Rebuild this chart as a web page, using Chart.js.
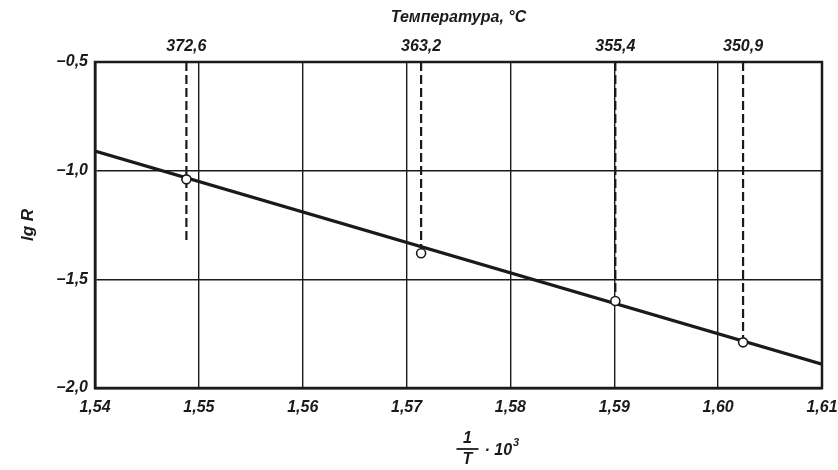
<!DOCTYPE html>
<html>
<head>
<meta charset="utf-8">
<script src="https://cdn.jsdelivr.net/npm/chart.js@4"></script>
<style>
  body { margin: 0; background: #fff; }
  #wrap { width: 838px; height: 470px; position: relative; }
</style>
</head>
<body>
<div id="wrap"><canvas id="myChart"></canvas></div>
<script>
// data
const xTicks = [1.54, 1.55, 1.56, 1.57, 1.58, 1.59, 1.60, 1.61];
const yTicks = [-2.0, -1.5, -1.0, -0.5];
const recipX = [1.5488, 1.5714, 1.5901, 1.6024];   // 1/T * 10^3
const lgR = [-1.04, -1.38, -1.60, -1.79];
const tempLabels = ["372,6", "363,2", "355,4", "350,9"];
const dashTop = -0.5;
const dashEnd = [-1.32, -1.38, -1.60, -1.79];
const fitX = [1.54, 1.61];
const fitY = [-0.91, -1.89];

const ink = "#1a1a1a";
const fnt = "'Liberation Sans', 'DejaVu Sans', sans-serif";

// dashed drop lines, one dataset each
var dropSets = recipX.map(function (x, i) {
  return {
    type: "line",
    data: [{ x: x, y: dashTop }, { x: x, y: dashEnd[i] }],
    borderColor: ink,
    borderWidth: 2.2,
    borderDash: [9, 4],
    pointRadius: 0,
    order: 3,
  };
});

// box round the plot + fraction title under x axis
const frame = {
  id: "frame",
  afterDatasetsDraw(chart) {
    const c = chart.ctx, a = chart.chartArea;
    c.save();
    c.strokeStyle = ink;
    c.lineWidth = 2.5;
    c.strokeRect(a.left, a.top, a.right - a.left, a.bottom - a.top);
    c.restore();
  },
  afterDraw(chart) {
    const c = chart.ctx;
    const cx = (chart.chartArea.left + chart.chartArea.right) / 2 + 9;
    c.save();
    c.fillStyle = ink;
    c.strokeStyle = ink;
    c.textAlign = "center";
    c.textBaseline = "middle";
    c.font = "italic bold 16px " + fnt;
    c.fillText("1", cx, 439);
    c.fillText("T", cx, 460);
    c.lineWidth = 1.8;
    c.beginPath();
    c.moveTo(cx - 11, 449);
    c.lineTo(cx + 11, 449);
    c.stroke();
    c.textAlign = "left";
    var t = "· 10";
    c.fillText(t, cx + 17, 451);
    var w = c.measureText(t).width;
    c.font = "italic bold 11px " + fnt;
    c.fillText("3", cx + 18 + w, 443);
    c.restore();
  },
};

const ctx = document.getElementById("myChart");
new Chart(ctx, {
  type: "scatter",
  data: {
    datasets: [
      {
        type: "line",
        data: fitX.map(function (x, i) { return { x: x, y: fitY[i] }; }),
        borderColor: ink,
        borderWidth: 3.2,
        pointRadius: 0,
        order: 2,
      },
      {
        data: recipX.map(function (x, i) { return { x: x, y: lgR[i] }; }),
        pointRadius: 4.5,
        pointBackgroundColor: "#fff",
        pointBorderColor: ink,
        pointBorderWidth: 1.6,
        order: 1,
      },
    ].concat(dropSets),
  },
  options: {
    responsive: true,
    maintainAspectRatio: false,
    animation: false,
    layout: { padding: { left: 0, right: 16, top: 0, bottom: 0 } },
    plugins: { legend: { display: false }, tooltip: { enabled: false } },
    scales: {
      x: {
        type: "linear",
        position: "bottom",
        min: 1.54,
        max: 1.61,
        afterBuildTicks: function (s) { s.ticks = xTicks.map(function (v) { return { value: v }; }); },
        afterFit: function (s) { s.height = 82; s.paddingRight = 0; s.paddingLeft = 0; },
        grid: { color: ink, lineWidth: 1.4, drawTicks: false },
        border: { color: ink, width: 2.5 },
        ticks: {
          color: ink,
          padding: 10,
          maxRotation: 0,
          autoSkip: false,
          font: { family: fnt, size: 16, style: "italic", weight: "bold" },
          callback: function (v) { return v.toFixed(2).replace(".", ","); },
        },
      },
      xt: {
        type: "linear",
        position: "top",
        min: 1.54,
        max: 1.61,
        afterBuildTicks: function (s) { s.ticks = recipX.map(function (v) { return { value: v }; }); },
        afterFit: function (s) { s.height = 62; s.paddingRight = 0; s.paddingLeft = 0; },
        grid: { display: false, drawTicks: false },
        border: { display: false },
        ticks: {
          color: ink,
          padding: 6,
          maxRotation: 0,
          autoSkip: false,
          font: { family: fnt, size: 16, style: "italic", weight: "bold" },
          callback: function (v, i) { return tempLabels[i]; },
        },
        title: {
          display: true,
          text: "Температура, °C",
          color: ink,
          padding: { top: 8, bottom: 2 },
          font: { family: fnt, size: 16, style: "italic", weight: "bold" },
        },
      },
      y: {
        type: "linear",
        min: -2.0,
        max: -0.5,
        afterBuildTicks: function (s) { s.ticks = yTicks.map(function (v) { return { value: v }; }); },
        afterFit: function (s) { s.width = 95; },
        grid: { color: ink, lineWidth: 1.4, drawTicks: false },
        border: { color: ink, width: 2.5 },
        ticks: {
          color: ink,
          padding: 7,
          font: { family: fnt, size: 16, style: "italic", weight: "bold" },
          callback: function (v) { return "\u2013" + Math.abs(v).toFixed(1).replace(".", ","); },
        },
        title: {
          display: true,
          text: "lg R",
          color: ink,
          padding: { top: 18, bottom: 0 },
          font: { family: fnt, size: 17, style: "italic", weight: "bold" },
        },
      },
    },
  },
  plugins: [frame],
});
</script>
</body>
</html>
